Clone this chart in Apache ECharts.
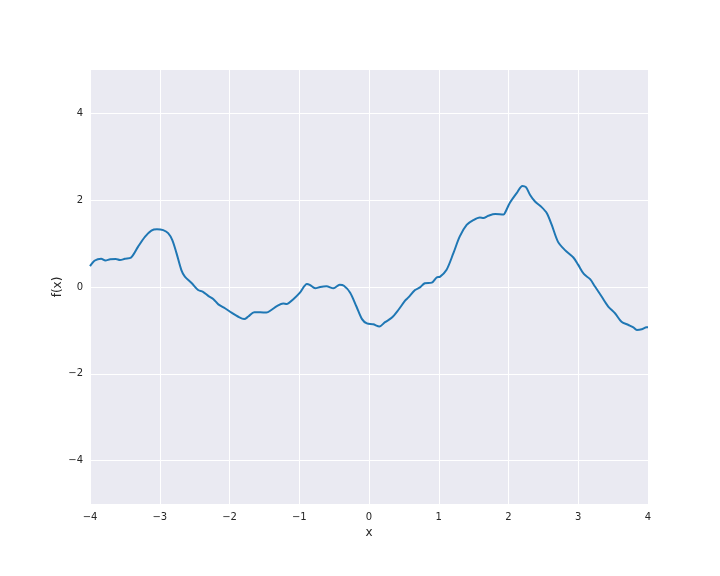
<!DOCTYPE html>
<html>
<head>
<meta charset="utf-8">
<script src="https://cdn.jsdelivr.net/npm/echarts@6/dist/echarts.min.js"></script>
<style>html,body{margin:0;padding:0;background:#fff}#c{width:720px;height:576px}</style>
</head>
<body>
<div id="c"></div>
<script>
const xValues = [-4.0, -3.93, -3.84, -3.78, -3.71, -3.63, -3.57, -3.5, -3.41, -3.31, -3.21, -3.12, -3.04, -2.95, -2.88, -2.82, -2.76, -2.69, -2.64, -2.54, -2.45, -2.38, -2.3, -2.23, -2.16, -2.065, -1.97, -1.88, -1.79, -1.73, -1.645, -1.56, -1.47, -1.4, -1.32, -1.23, -1.18, -1.085, -0.99, -0.89, -0.85, -0.77, -0.7, -0.61, -0.51, -0.42, -0.36, -0.27, -0.18, -0.1, -0.03, 0.06, 0.15, 0.23, 0.325, 0.42, 0.52, 0.565, 0.66, 0.73, 0.8, 0.9, 0.97, 1.02, 1.11, 1.21, 1.3, 1.4, 1.495, 1.59, 1.64, 1.71, 1.81, 1.93, 1.95, 2.02, 2.12, 2.2, 2.25, 2.31, 2.38, 2.475, 2.55, 2.62, 2.71, 2.81, 2.93, 3.0, 3.08, 3.17, 3.24, 3.335, 3.43, 3.53, 3.62, 3.72, 3.79, 3.84, 3.91, 3.98, 4.0];
const yValues = [0.48, 0.61, 0.65, 0.61, 0.64, 0.645, 0.62, 0.65, 0.68, 0.93, 1.16, 1.3, 1.33, 1.31, 1.24, 1.08, 0.78, 0.39, 0.24, 0.085, -0.07, -0.11, -0.21, -0.28, -0.4, -0.49, -0.59, -0.68, -0.74, -0.68, -0.58, -0.58, -0.59, -0.53, -0.44, -0.38, -0.39, -0.28, -0.13, 0.07, 0.05, -0.03, 0.0, 0.015, -0.03, 0.05, 0.03, -0.13, -0.45, -0.74, -0.84, -0.86, -0.91, -0.81, -0.71, -0.53, -0.31, -0.24, -0.07, -0.01, 0.085, 0.1, 0.22, 0.24, 0.39, 0.78, 1.16, 1.43, 1.54, 1.6, 1.59, 1.64, 1.68, 1.67, 1.71, 1.94, 2.17, 2.33, 2.3, 2.12, 1.97, 1.84, 1.7, 1.43, 1.04, 0.85, 0.68, 0.51, 0.3, 0.18, 0.01, -0.22, -0.45, -0.61, -0.8, -0.875, -0.93, -0.99, -0.975, -0.93, -0.93];
const xTicks = [-4, -3, -2, -1, 0, 1, 2, 3, 4];
const yTicks = [-4, -2, 0, 2, 4];

const fmt = v => (v < 0 ? '\u2212' + Math.abs(v) : String(v));
const data = xValues.map((x, i) => [x, yValues[i]]);
const chart = echarts.init(document.getElementById('c'));
chart.setOption({
  animation: false,
  backgroundColor: '#ffffff',
  grid: { left: 90, right: 72, top: 70, bottom: 72, show: true, backgroundColor: '#EAEAF2', borderWidth: 0 },
  xAxis: {
    type: 'value', min: -4, max: 4, interval: 1,
    name: 'x', nameLocation: 'middle', nameGap: 23, nameMoveOverlap: false,
    nameTextStyle: { color: '#262626', fontSize: 12, fontFamily: 'DejaVu Sans' },
    axisLine: { show: false }, axisTick: { show: false },
    axisLabel: { color: '#262626', fontSize: 10, fontFamily: 'DejaVu Sans', margin: 8, formatter: fmt },
    splitLine: { show: true, lineStyle: { color: '#ffffff', width: 1 } }
  },
  yAxis: {
    type: 'value', min: -5, max: 5,
    name: 'f(x)', nameLocation: 'middle', nameGap: 26, nameRotate: 90, nameMoveOverlap: false,
    nameTextStyle: { color: '#262626', fontSize: 12, fontFamily: 'DejaVu Sans' },
    axisLine: { show: false },
    axisTick: { show: false, customValues: yTicks },
    axisLabel: { color: '#262626', fontSize: 10, fontFamily: 'DejaVu Sans', margin: 7, formatter: fmt, customValues: yTicks },
    splitLine: { show: true, lineStyle: { color: '#ffffff', width: 1 } }
  },
  series: [{
    type: 'line', data: data, showSymbol: false, smooth: 0.3,
    lineStyle: { color: '#1f77b4', width: 2 }, clip: true
  }]
});
</script>
</body>
</html>
